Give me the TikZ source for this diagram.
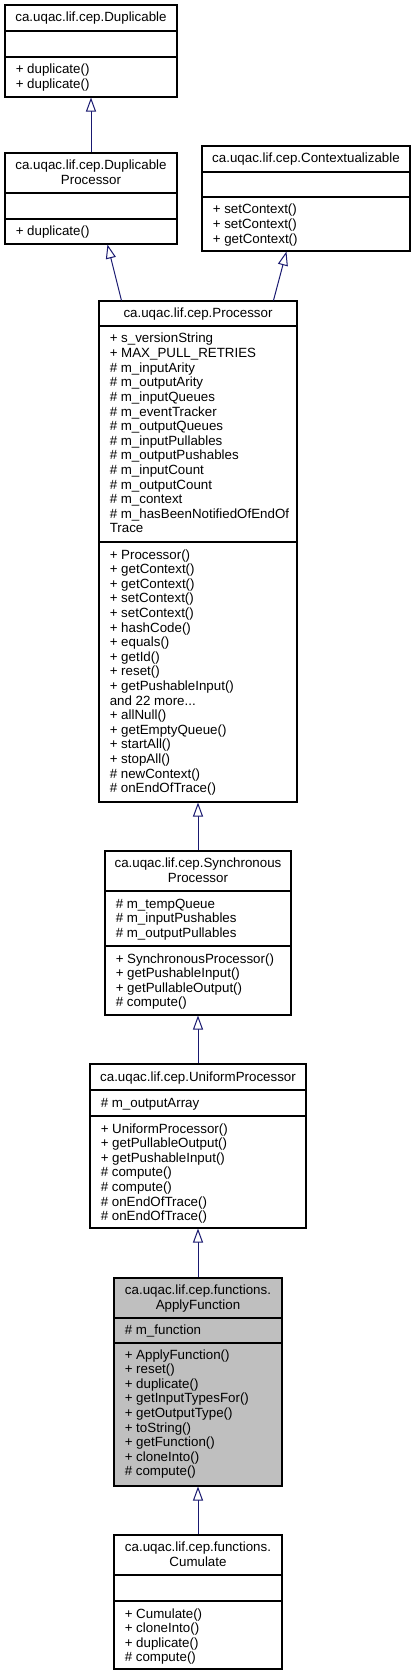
\documentclass[tikz,border=0pt]{standalone}
\usepackage{fontspec}
\setmainfont{Liberation Sans}
\usetikzlibrary{fit,calc,arrows.meta}
\definecolor{edgeblue}{RGB}{25,25,112}
\definecolor{greyfill}{RGB}{191,191,191}
\newcommand\mydots{...}
\newcommand\umllines[5]{\foreach \t [count=\i] in {#5} {\node[umltext, anchor=#4] (#1-\i) at (#2, {#3+(\i-1)*14.6}) {\t};}}
\begin{document}
\begin{tikzpicture}[x=0.75pt, y=-0.75pt,
  umltext/.style={inner sep=0pt, font=\fontsize{10pt}{12pt}\selectfont, text=black},
  umlbox/.style={draw=black, line width=0.8pt, inner sep=0pt, fill=white},
  divider/.style={draw=black, line width=0.8pt},
  inherit/.style={draw=edgeblue, line width=0.75pt, -{Triangle[open, length=10.5pt, width=7.5pt, fill=white]}}]
\useasboundingbox (0,0) rectangle (415,1676);
\fill[white] (0,0) rectangle (415,1676);

% Duplicable
\node[umlbox, fit={(5,5) (177,97)}] (dup) {};
\draw[divider] (5,31) -- (177,31);
\draw[divider] (5,57) -- (177,57);
\umllines{duptitle}{91}{22}{base}{ca.uqac.lif.cep.Duplicable}
\umllines{dupm}{15.5}{74}{base west}{+ duplicate(), + duplicate()}

% DuplicableProcessor
\node[umlbox, fit={(5,153) (177,244)}] (dupproc) {};
\draw[divider] (5,193) -- (177,193);
\draw[divider] (5,219) -- (177,219);
\umllines{dupproctitle}{91}{169.5}{base}{ca.uqac.lif.cep.Duplicable, Processor}
\umllines{dupprocm}{15.5}{236}{base west}{+ duplicate()}

% Contextualizable
\node[umlbox, fit={(202,146) (410,251)}] (ctx) {};
\draw[divider] (202,172) -- (410,172);
\draw[divider] (202,197) -- (410,197);
\umllines{ctxtitle}{306}{163}{base}{ca.uqac.lif.cep.Contextualizable}
\umllines{ctxm}{212.5}{214}{base west}{+ setContext(), + setContext(), + getContext()}

% Processor
\node[umlbox, fit={(99,301) (297,802)}] (proc) {};
\draw[divider] (99,326) -- (297,326);
\draw[divider] (99,542) -- (297,542);
\umllines{proctitle}{198}{318}{base}{ca.uqac.lif.cep.Processor}
\umllines{proca}{109.5}{343}{base west}{+ s\_versionString, + MAX\_PULL\_RETRIES, \# m\_inputArity, \# m\_outputArity, \# m\_inputQueues, \# m\_eventTracker, \# m\_outputQueues, \# m\_inputPullables, \# m\_outputPushables, \# m\_inputCount, \# m\_outputCount, \# m\_context, \# m\_hasBeenNotifiedOfEndOf, Trace}
\umllines{procm}{109.5}{559}{base west}{+ Processor(), + getContext(), + getContext(), + setContext(), + setContext(), + hashCode(), + equals(), + getId(), + reset(), + getPushableInput(), and 22 more\mydots, + allNull(), + getEmptyQueue(), + startAll(), + stopAll(), \# newContext(), \# onEndOfTrace()}

% SynchronousProcessor
\node[umlbox, fit={(105,851) (291,1015)}] (sync) {};
\draw[divider] (105,891) -- (291,891);
\draw[divider] (105,946) -- (291,946);
\umllines{synctitle}{198}{867.5}{base}{ca.uqac.lif.cep.Synchronous, Processor}
\umllines{synca}{115.5}{908}{base west}{\# m\_tempQueue, \# m\_inputPushables, \# m\_outputPullables}
\umllines{syncm}{115.5}{963}{base west}{+ SynchronousProcessor(), + getPushableInput(), + getPullableOutput(), \# compute()}

% UniformProcessor
\node[umlbox, fit={(90,1064) (306,1228)}] (unif) {};
\draw[divider] (90,1090) -- (306,1090);
\draw[divider] (90,1116) -- (306,1116);
\umllines{uniftitle}{198}{1081}{base}{ca.uqac.lif.cep.UniformProcessor}
\umllines{unifa}{100.5}{1107}{base west}{\# m\_outputArray}
\umllines{unifm}{100.5}{1133}{base west}{+ UniformProcessor(), + getPullableOutput(), + getPushableInput(), \# compute(), \# compute(), \# onEndOfTrace(), \# onEndOfTrace()}

% ApplyFunction
\node[umlbox, fill=greyfill, fit={(114,1278) (282,1486)}] (apply) {};
\draw[divider] (114,1318) -- (282,1318);
\draw[divider] (114,1343) -- (282,1343);
\umllines{applytitle}{198}{1294.5}{base}{ca.uqac.lif.cep.functions., ApplyFunction}
\umllines{applya}{124.5}{1334}{base west}{\# m\_function}
\umllines{applym}{124.5}{1359}{base west}{+ ApplyFunction(), + reset(), + duplicate(), + getInputTypesFor(), + getOutputType(), + toString(), + getFunction(), + cloneInto(), \# compute()}

% Cumulate
\node[umlbox, fit={(114,1535) (282,1669)}] (cum) {};
\draw[divider] (114,1575) -- (282,1575);
\draw[divider] (114,1601) -- (282,1601);
\umllines{cumtitle}{198}{1551.5}{base}{ca.uqac.lif.cep.functions., Cumulate}
\umllines{cumm}{124.5}{1618}{base west}{+ Cumulate(), + cloneInto(), + duplicate(), \# compute()}

% inheritance edges
\draw[inherit] (dupproc.north) -- (dup.south);
\draw[inherit] ($(proc.north west)+(23,0)$) -- ($(dupproc.south west)+(103,0)$);
\draw[inherit] ($(proc.north west)+(175,0)$) -- ($(ctx.south west)+(85,0)$);
\draw[inherit] (sync.north) -- (proc.south);
\draw[inherit] (unif.north) -- (sync.south);
\draw[inherit] (apply.north) -- (unif.south);
\draw[inherit] (cum.north) -- (apply.south);
\end{tikzpicture}
\end{document}
